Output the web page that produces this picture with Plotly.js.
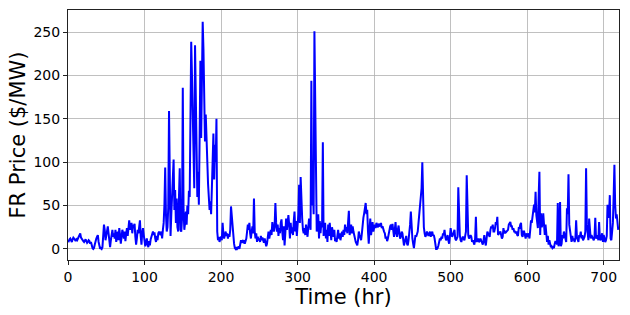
<!DOCTYPE html>
<html>
<head>
<meta charset="utf-8">
<script src="https://cdn.plot.ly/plotly-3.0.1.min.js"></script>
<style>html,body{margin:0;padding:0;background:#fff;}#chart{width:630px;height:315px;}</style>
</head>
<body>
<div id="chart"></div>
<script>
// FR price per hour (hours 0..719)
const price_000_099 = [
  10, 9, 11, 12, 10, 8, 11, 13, 12, 10, 9, 11, 10, 12, 14, 16, 18, 13, 11, 10,
  9, 8, 10, 11, 9, 7, 8, 10, 9, 6, 8, 4, 1, 0, 1, 5, 10, 12, 14, 16,
  8, 2, 0, 1, 0, 2, 12, 28, 22, 10, 15, 20, 26, 18, 3, 2, 10, 18, 22, 14,
  18, 12, 22, 8, 15, 20, 10, 24, 16, 6, 14, 22, 18, 12, 20, 9, 17, 24, 15, 28,
  33, 22, 27, 30, 18, 28, 24, 29, 14, 5, 12, 22, 18, 26, 33, 15, 5, 19, 24, 16
];
const price_100_199 = [
  10, 3, 8, 12, 5, 2, 9, 4, 11, 14, 18, 20, 16, 19, 12, 8, 15, 10, 18, 20,
  18, 16, 20, 12, 22, 30, 51, 94, 40, 20, 25, 48, 159, 30, 15, 40, 60, 70, 103, 45,
  68, 30, 58, 25, 20, 60, 93, 22, 20, 35, 186, 45, 22, 30, 43, 28, 50, 40, 67, 60,
  155, 239, 200, 147, 95, 70, 235, 190, 143, 60, 89, 51, 130, 217, 128, 180, 262, 231, 160, 124,
  155, 120, 95, 75, 60, 45, 55, 40, 70, 110, 133, 80, 120, 100, 150, 20, 10, 14, 8, 12
];
const price_200_299 = [
  14, 10, 30, 18, 12, 16, 20, 15, 18, 12, 17, 14, 22, 49, 35, 28, 12, 6, 1, 0,
  2, 0, 1, 3, 0, 8, 10, 7, 9, 8, 10, 6, 9, 12, 20, 28, 22, 30, 18, 12,
  20, 26, 18, 58, 20, 12, 18, 8, 14, 10, 12, 8, 15, 10, 13, 9, 7, 12, 8, 3,
  6, 15, 20, 12, 18, 22, 16, 31, 24, 20, 26, 53, 30, 20, 28, 15, 24, 18, 30, 34,
  20, 10, 26, 4, 18, 35, 22, 37, 39, 28, 12, 30, 18, 25, 16, 32, 43, 20, 32, 15
];
const price_300_399 = [
  28, 40, 74, 30, 83, 45, 35, 22, 18, 24, 16, 28, 20, 14, 25, 35, 30, 22, 194, 50,
  70, 40, 251, 180, 116, 20, 28, 40, 12, 32, 18, 30, 25, 123, 15, 25, 30, 12, 22, 8,
  28, 15, 30, 20, 10, 25, 18, 14, 22, 9, 12, 8, 15, 22, 12, 18, 10, 15, 20, 14,
  22, 16, 28, 20, 25, 18, 30, 44, 16, 22, 28, 18, 26, 20, 15, 12, 8, 6, 4, 10,
  20, 16, 12, 10, 18, 31, 36, 41, 48, 53, 40, 45, 20, 6, 22, 35, 16, 24, 31, 20
];
const price_400_499 = [
  26, 28, 24, 30, 27, 25, 29, 28, 26, 30, 24, 26, 22, 20, 18, 12, 14, 9, 12, 18,
  20, 26, 28, 22, 29, 20, 14, 22, 31, 18, 14, 22, 27, 18, 12, 14, 20, 18, 10, 4,
  8, 12, 15, 6, 4, 10, 16, 28, 43, 20, 12, 6, 1, 8, 16, 14, 16, 20, 30, 43,
  50, 58, 70, 100, 45, 25, 18, 14, 16, 20, 18, 15, 17, 20, 14, 16, 20, 15, 16, 12,
  4, 0, 0, 1, 4, 7, 12, 10, 14, 12, 18, 16, 22, 14, 10, 12, 16, 10, 6, 14
];
const price_500_599 = [
  24, 18, 14, 16, 20, 22, 12, 10, 12, 14, 71, 30, 16, 10, 8, 12, 14, 12, 10, 15,
  20, 85, 20, 16, 12, 15, 16, 14, 8, 10, 6, 5, 12, 37, 8, 10, 12, 8, 9, 12,
  10, 6, 5, 10, 16, 8, 4, 12, 20, 18, 16, 14, 22, 26, 24, 28, 20, 20, 24, 31,
  28, 37, 16, 18, 20, 20, 16, 12, 14, 24, 18, 20, 19, 20, 20, 22, 28, 30, 31, 26,
  26, 22, 24, 20, 20, 18, 20, 16, 15, 24, 24, 28, 30, 16, 14, 20, 20, 16, 12, 18
];
const price_600_719 = [
  16, 14, 18, 12, 22, 33, 30, 36, 47, 51, 42, 66, 39, 30, 24, 60, 89, 16, 41, 25,
  28, 41, 20, 16, 28, 12, 8, 15, 5, 10, 4, 2, 3, 1, 2, 1, 6, 9, 8, 5,
  53, 3, 8, 54, 3, 6, 16, 12, 20, 14, 12, 8, 47, 40, 86, 28, 20, 12, 8, 15,
  10, 12, 8, 12, 33, 14, 10, 8, 16, 14, 20, 12, 16, 10, 12, 14, 20, 93, 28, 16,
  10, 35, 25, 12, 16, 14, 12, 10, 14, 36, 12, 14, 16, 10, 31, 12, 10, 14, 18, 8,
  16, 12, 8, 10, 15, 51, 36, 40, 62, 12, 10, 20, 30, 60, 97, 51, 35, 40, 24, 22
];
const xTicks = [0, 100, 200, 300, 400, 500, 600, 700];
const yTicks = [0, 50, 100, 150, 200, 250];
const xLabel = 'Time (hr)';
const yLabel = 'FR Price ($/MW)';

const price = [].concat(price_000_099, price_100_199, price_200_299, price_300_399,
                        price_400_499, price_500_599, price_600_719);
const hours = price.map((_, i) => i);

const font = 'DejaVu Sans, sans-serif';
const trace = {
  x: hours, y: price, type: 'scatter', mode: 'lines',
  line: {color: '#0000ff', width: 2}, hoverinfo: 'skip'
};
const axisCommon = {
  showline: true, mirror: true, linecolor: '#222', linewidth: 1,
  ticks: 'outside', ticklen: 4, tickcolor: '#222', tickwidth: 1,
  showgrid: true, gridcolor: '#b0b0b0', gridwidth: 0.8, zeroline: false,
  tickfont: {family: font, size: 14, color: '#000'}
};
const layout = {
  width: 630, height: 315,
  margin: {l: 68, r: 11, t: 10, b: 55},
  paper_bgcolor: '#fff', plot_bgcolor: '#fff',
  showlegend: false,
  xaxis: Object.assign({}, axisCommon, {
    range: [0, 720], tickmode: 'array', tickvals: xTicks, ticktext: xTicks.map(String),
    title: {text: xLabel, font: {family: font, size: 21, color: '#000'}, standoff: 5}
  }),
  yaxis: Object.assign({}, axisCommon, {
    range: [-12.8, 275.6], tickmode: 'array', tickvals: yTicks, ticktext: yTicks.map(String),
    title: {text: yLabel, font: {family: font, size: 21, color: '#000'}, standoff: 2}
  })
};
Plotly.newPlot('chart', [trace], layout, {staticPlot: true, displayModeBar: false});
</script>
</body>
</html>
